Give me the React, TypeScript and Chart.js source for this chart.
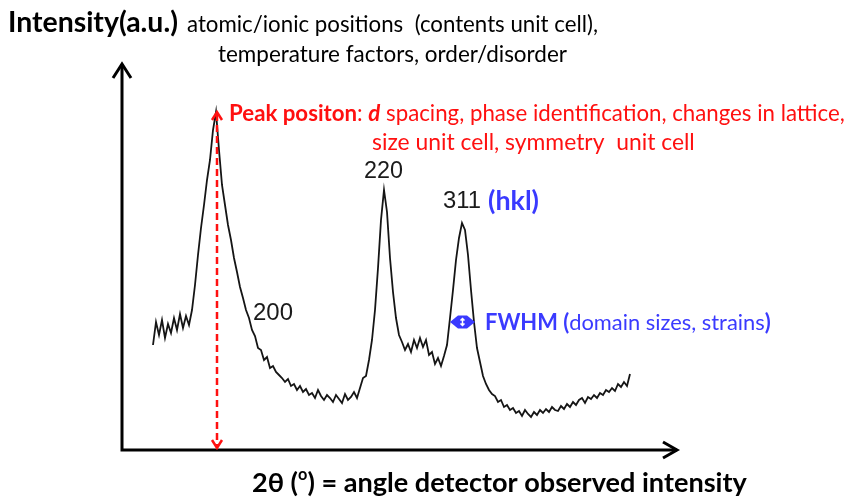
import { useEffect, useRef } from "react";
import { Chart, registerables } from "chart.js";

Chart.register(...registerables);

// 2θ (degrees) sampling positions of the diffraction pattern
const twoTheta = [
  13.1, 13.4, 13.7, 14.0, 14.3, 14.6, 14.9, 15.2, 15.5, 15.8,
  16.1, 16.4, 16.7, 17.0, 17.3, 17.6, 17.9, 18.2, 18.5, 18.8,
  19.1, 19.4, 19.7, 20.0, 20.3, 20.6, 20.9, 21.2, 21.5, 21.8,
  22.1, 22.4, 22.7, 23.0, 23.3, 23.6, 23.9, 24.2, 24.5, 24.8,
  25.1, 25.4, 25.7, 26.0, 26.3, 26.6, 26.9, 27.2, 27.5, 27.8,
  28.1, 28.4, 28.7, 29.0, 29.3, 29.6, 29.9, 30.2, 30.5, 30.8,
  31.1, 31.4, 31.7, 32.0, 32.3, 32.6, 32.9, 33.2, 33.5, 33.8,
  34.1, 34.4, 34.7, 35.0, 35.3, 35.6, 35.9, 36.2, 36.5, 36.8,
  37.1, 37.4, 37.7, 38.0, 38.3, 38.6, 38.9, 39.2, 39.5, 39.8,
  40.1, 40.4, 40.7, 41.0, 41.3, 41.6, 41.9, 42.2, 42.5, 42.8,
  43.1, 43.4, 43.7, 44.0, 44.3, 44.6, 44.9, 45.2, 45.5, 45.8,
  46.1, 46.4, 46.7, 47.0, 47.3, 47.6, 47.9, 48.2, 48.5, 48.8,
  49.1, 49.4, 49.7, 50.0, 50.3, 50.6, 50.9, 51.2, 51.5, 51.8,
  52.1, 52.4, 52.7, 53.0, 53.3, 53.6, 53.9, 54.2, 54.5, 54.8,
  55.1, 55.4, 55.7, 56.0, 56.3, 56.6, 56.9, 57.2, 57.5, 57.8,
  58.1, 58.4, 58.7, 59.0, 59.3, 59.6, 59.9, 60.2, 60.5, 60.8,
];

// Observed intensity (a.u.)
const intensity = [
  105, 128, 115, 130, 112, 126, 117, 132, 120, 136,
  122, 134, 125, 140, 165, 195, 222, 245, 270, 290,
  320, 338, 300, 265, 245, 225, 210, 192, 178, 163,
  152, 140, 132, 120, 114, 102, 100, 90, 93, 82,
  84, 78, 75, 72, 68, 71, 64, 66, 60, 64,
  58, 61, 55, 57, 52, 60, 54, 50, 55, 52,
  48, 55, 51, 47, 56, 50, 53, 58, 52, 62,
  72, 74, 90, 110, 140, 182, 230, 260, 238, 192,
  158, 132, 115, 108, 100, 106, 98, 110, 102, 112,
  103, 110, 95, 98, 86, 92, 84, 94, 105, 132,
  160, 190, 212, 227, 220, 195, 160, 128, 102, 88,
  74, 66, 60, 56, 54, 48, 50, 43, 45, 40,
  42, 37, 39, 34, 40, 36, 33, 38, 35, 40,
  37, 41, 38, 43, 40, 39, 44, 41, 46, 43,
  48, 45, 50, 52, 47, 53, 51, 55, 52, 57,
  55, 60, 58, 62, 59, 66, 63, 68, 64, 76,
];

// Annotation values (data units)
const peakPosition = 19.5;
const peakTop = 338;
const fwhmRange = [42.8, 45.3];
const fwhmLevel = 128;
const hklLabels = ["200", "220", "311"];

const RED = "#ff1010";
const BLUE = "#3a3aff";
const FAM = "Lato, 'Open Sans', sans-serif";

type Run = { t: string; b?: boolean; i?: boolean; c: string; sup?: boolean };

function drawRuns(
  ctx: CanvasRenderingContext2D,
  runs: Run[],
  x: number,
  y: number,
  width: number,
  family: string
) {
  const base = 20;
  const fontFor = (r: Run, s: number) =>
    `${r.i ? "italic " : ""}${r.b ? "bold " : ""}${r.sup ? s * 0.6 : s}px ${family}`;
  let total = 0;
  for (const r of runs) {
    ctx.font = fontFor(r, base);
    total += ctx.measureText(r.t).width;
  }
  const s = (base * width) / total;
  let cx = x;
  ctx.textBaseline = "middle";
  ctx.textAlign = "left";
  for (const r of runs) {
    ctx.font = fontFor(r, s);
    ctx.fillStyle = r.c;
    ctx.fillText(r.t, cx, r.sup ? y - s * 0.3 : y);
    cx += ctx.measureText(r.t).width;
  }
}

const overlay = {
  id: "overlay",
  afterDraw(chart: any) {
    const ctx: CanvasRenderingContext2D = chart.ctx;
    const xs = chart.scales.x;
    const ys = chart.scales.y;
    const area = chart.chartArea;
    ctx.save();

    // axes with arrow heads
    ctx.strokeStyle = "#000";
    ctx.lineWidth = 3;
    ctx.lineCap = "butt";
    ctx.beginPath();
    ctx.moveTo(area.left, area.bottom);
    ctx.lineTo(area.left, area.top + 1);
    ctx.moveTo(area.left - 1.5, area.bottom);
    ctx.lineTo(area.right - 1, area.bottom);
    ctx.stroke();
    ctx.lineJoin = "miter";
    ctx.beginPath();
    ctx.moveTo(area.left - 9, area.top + 15);
    ctx.lineTo(area.left, area.top + 1);
    ctx.lineTo(area.left + 9, area.top + 15);
    ctx.moveTo(area.right - 15, area.bottom - 8);
    ctx.lineTo(area.right - 1, area.bottom);
    ctx.lineTo(area.right - 15, area.bottom + 8);
    ctx.stroke();

    // red dashed double arrow at peak position
    const px = xs.getPixelForValue(peakPosition);
    const pTop = ys.getPixelForValue(peakTop);
    const pBot = area.bottom - 2;
    ctx.strokeStyle = RED;
    ctx.lineWidth = 2.5;
    ctx.setLineDash([7, 4]);
    ctx.beginPath();
    ctx.moveTo(px, pTop + 2);
    ctx.lineTo(px, pBot - 2);
    ctx.stroke();
    ctx.setLineDash([]);
    ctx.beginPath();
    ctx.moveTo(px - 5, pTop + 8);
    ctx.lineTo(px, pTop);
    ctx.lineTo(px + 5, pTop + 8);
    ctx.moveTo(px - 5, pBot - 8);
    ctx.lineTo(px, pBot);
    ctx.lineTo(px + 5, pBot - 8);
    ctx.stroke();

    // FWHM double arrow (blue)
    const fl = xs.getPixelForValue(fwhmRange[0]);
    const fr = xs.getPixelForValue(fwhmRange[1]);
    const fy = ys.getPixelForValue(fwhmLevel);
    ctx.fillStyle = BLUE;
    ctx.beginPath();
    ctx.moveTo(fl, fy);
    ctx.lineTo(fl + 8, fy - 6.5);
    ctx.lineTo(fr - 8, fy - 6.5);
    ctx.lineTo(fr, fy);
    ctx.lineTo(fr - 8, fy + 6.5);
    ctx.lineTo(fl + 8, fy + 6.5);
    ctx.closePath();
    ctx.fill();
    const fc = (fl + fr) / 2;
    ctx.strokeStyle = "#fff";
    ctx.lineWidth = 1.5;
    ctx.beginPath();
    ctx.moveTo(fc, fy - 3.5);
    ctx.lineTo(fc, fy + 3.5);
    ctx.moveTo(fc - 2, fy - 1.5);
    ctx.lineTo(fc, fy - 3.5);
    ctx.lineTo(fc + 2, fy - 1.5);
    ctx.moveTo(fc - 2, fy + 1.5);
    ctx.lineTo(fc, fy + 3.5);
    ctx.lineTo(fc + 2, fy + 1.5);
    ctx.stroke();

    // texts
    drawRuns(ctx, [{ t: "Intensity(a.u.)", b: true, c: "#000" }], 8, 23, 170, FAM);
    drawRuns(ctx, [{ t: "atomic/ionic positions  (contents unit cell),", c: "#000" }], 187, 25, 411, FAM);
    drawRuns(ctx, [{ t: "temperature factors, order/disorder", c: "#000" }], 218, 55, 349, FAM);
    drawRuns(
      ctx,
      [
        { t: "Peak positon", b: true, c: RED },
        { t: ": ", c: RED },
        { t: "d", b: true, i: true, c: RED },
        { t: " spacing, phase identification, changes in lattice,", c: RED },
      ],
      229,
      114,
      616,
      FAM
    );
    drawRuns(ctx, [{ t: "size unit cell, symmetry  unit cell", c: RED }], 372, 143, 323, FAM);

    const numFam = "'Liberation Sans', Arial, sans-serif";
    drawRuns(ctx, [{ t: hklLabels[1], c: "#1a1a1a" }], 364, 172, 39, numFam);
    drawRuns(ctx, [{ t: hklLabels[2], c: "#1a1a1a" }], 443, 201, 38, numFam);
    drawRuns(ctx, [{ t: "(hkl)", b: true, c: BLUE }], 488, 201, 51, FAM);
    drawRuns(ctx, [{ t: hklLabels[0], c: "#1a1a1a" }], 253, 313, 40, numFam);

    drawRuns(
      ctx,
      [
        { t: "FWHM (", b: true, c: BLUE },
        { t: "domain sizes, strains", c: BLUE },
        { t: ")", b: true, c: BLUE },
      ],
      485,
      323,
      286,
      FAM
    );

    drawRuns(
      ctx,
      [
        { t: "2θ (", b: true, c: "#000" },
        { t: "o", b: true, sup: true, c: "#000" },
        { t: ") = angle detector observed intensity", b: true, c: "#000" },
      ],
      252,
      483,
      495,
      FAM
    );

    ctx.restore();
  },
};

export default function App() {
  const ref = useRef<HTMLCanvasElement>(null);
  useEffect(() => {
    const canvas = ref.current;
    if (!canvas) return;
    const chart = new Chart(canvas, {
      type: "line",
      data: {
        datasets: [
          {
            data: twoTheta.map((x, i) => ({ x, y: intensity[i] })),
            borderColor: "#151515",
            borderWidth: 1.8,
            pointRadius: 0,
            tension: 0,
            fill: false,
          },
        ],
      },
      options: {
        animation: false,
        responsive: false,
        devicePixelRatio: 1,
        layout: { padding: { left: 122, right: 171, top: 63, bottom: 47 } },
        scales: {
          x: { type: "linear", min: 10, max: 65.6, display: false },
          y: { min: 0, max: 387, display: false },
        },
        plugins: { legend: { display: false }, tooltip: { enabled: false } },
      },
      plugins: [overlay],
    });
    return () => chart.destroy();
  }, []);
  return (
    <div style={{ position: "fixed", left: 0, top: 0, width: 849, height: 497, background: "#fff" }}>
      <canvas ref={ref} width={849} height={497} style={{ display: "block", width: 849, height: 497 }} />
    </div>
  );
}
